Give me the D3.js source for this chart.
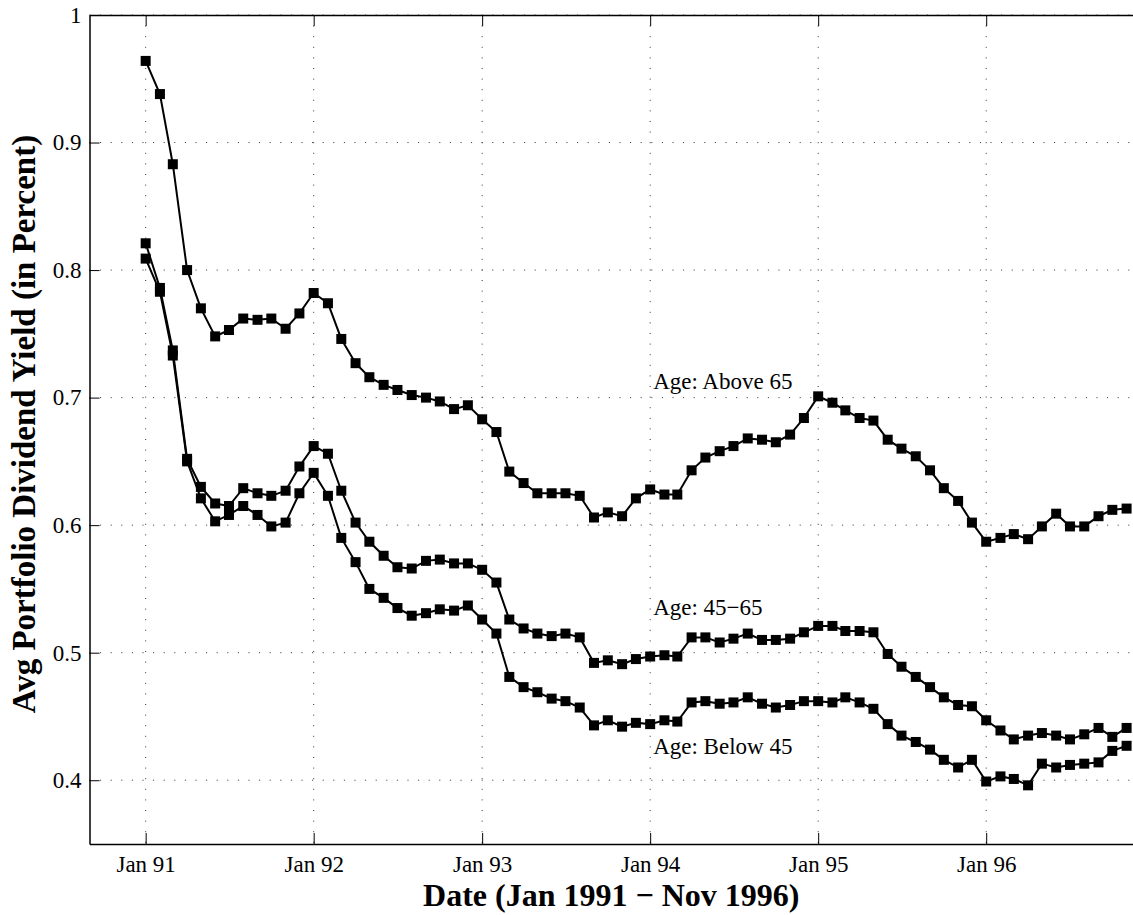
<!DOCTYPE html>
<html><head><meta charset="utf-8">
<script src="https://cdn.jsdelivr.net/npm/d3@7"></script>
<style>body{margin:0;background:#fff}svg{display:block}</style>
</head><body>
<svg id="c" width="1133" height="915"></svg>
<script>
// Monthly observations Jan 1991 .. Nov 1996
const startMonth = new Date(1991, 0, 1);
const endMonth = new Date(1996, 10, 1);
const above65 = [0.964,0.938,0.883,0.800,0.770,0.748,0.753,0.762,0.761,0.762,0.754,0.766,
 0.782,0.774,0.746,0.727,0.716,0.710,0.706,0.702,0.700,0.697,0.691,0.694,
 0.683,0.673,0.642,0.633,0.625,0.625,0.625,0.623,0.606,0.610,0.607,0.621,
 0.628,0.624,0.624,0.643,0.653,0.658,0.662,0.668,0.667,0.665,0.671,0.684,
 0.701,0.696,0.690,0.684,0.682,0.667,0.660,0.654,0.643,0.629,0.619,0.602,
 0.587,0.590,0.593,0.589,0.599,0.609,0.599,0.599,0.607,0.612,0.613];
const age45to65 = [0.821,0.786,0.737,0.652,0.630,0.617,0.615,0.629,0.625,0.623,0.627,0.646,
 0.662,0.656,0.627,0.602,0.587,0.576,0.567,0.566,0.572,0.573,0.570,0.570,
 0.565,0.555,0.526,0.519,0.515,0.513,0.515,0.512,0.492,0.494,0.491,0.495,
 0.497,0.498,0.497,0.512,0.512,0.508,0.511,0.515,0.510,0.510,0.511,0.516,
 0.521,0.521,0.517,0.517,0.516,0.499,0.489,0.481,0.473,0.465,0.459,0.458,
 0.447,0.439,0.432,0.435,0.437,0.435,0.432,0.436,0.441,0.434,0.441];
const below45 = [0.809,0.783,0.733,0.650,0.621,0.603,0.608,0.615,0.608,0.599,0.602,0.625,
 0.641,0.623,0.590,0.571,0.550,0.543,0.535,0.529,0.531,0.534,0.533,0.537,
 0.526,0.515,0.481,0.473,0.469,0.464,0.462,0.457,0.443,0.447,0.442,0.445,
 0.444,0.447,0.446,0.461,0.462,0.460,0.461,0.465,0.460,0.457,0.459,0.462,
 0.462,0.461,0.465,0.461,0.456,0.444,0.435,0.430,0.424,0.416,0.410,0.416,
 0.399,0.403,0.401,0.396,0.413,0.410,0.412,0.413,0.414,0.423,0.427];
const seriesNames = ["Age: Above 65", "Age: 45\u221265", "Age: Below 45"];
const labelValues = [0.7067, 0.5294, 0.4204];
const xTickLabels = ["Jan 91","Jan 92","Jan 93","Jan 94","Jan 95","Jan 96"];
const yTicks = [0.4,0.5,0.6,0.7,0.8,0.9,1];
const yTickLabels = ["0.4","0.5","0.6","0.7","0.8","0.9","1"];
const xTitle = "Date (Jan 1991 \u2212 Nov 1996)";
const yTitle = "Avg Portfolio Dividend Yield (in Percent)";

const months = d3.timeMonth.range(startMonth, d3.timeMonth.offset(endMonth, 1));
const xTickDates = xTickLabels.map((_, i) => new Date(1991 + i, 0, 1));

const svg = d3.select("#c");
const L = 89.5, T = 15, B = 844, R = 1140.4;
const x = d3.scaleTime().domain([new Date(1990, 8, 1), new Date(1996, 11, 1)]).range([L, R]);
const y = d3.scaleLinear().domain([0.35, 1.0]).range([B, T]);
const serif = "'Liberation Serif','Times New Roman',serif";

// grid
const g = svg.append("g");
g.selectAll(".vg").data(xTickDates).join("line")
  .attr("x1", d => x(d)).attr("x2", d => x(d)).attr("y1", T).attr("y2", B)
  .attr("stroke", "#333").attr("stroke-width", 1).attr("stroke-dasharray", "1,9.6");
g.selectAll(".hg").data(yTicks).join("line")
  .attr("x1", L).attr("x2", R).attr("y1", d => y(d)).attr("y2", d => y(d))
  .attr("stroke", "#333").attr("stroke-width", 1).attr("stroke-dasharray", "1,9.6");

// axes
const xAxis = d3.axisBottom(x).tickValues(xTickDates).tickFormat((d, i) => xTickLabels[i]).tickSizeInner(-11).tickSizeOuter(0).tickPadding(0);
const xa = svg.append("g").attr("transform", `translate(0,${B})`).call(xAxis);
const yAxis = d3.axisLeft(y).tickValues(yTicks).tickFormat((d, i) => yTickLabels[i]).tickSizeInner(-10).tickSizeOuter(0).tickPadding(0);
const ya = svg.append("g").attr("transform", `translate(${L},0)`).call(yAxis);
const xTop = d3.axisTop(x).tickValues(xTickDates).tickFormat("").tickSizeInner(-11).tickSizeOuter(0);
svg.append("g").attr("transform", `translate(0,${T})`).call(xTop);
[xa, ya].forEach(a => {
  a.selectAll("text").style("font-family", serif).style("font-size", "23px").attr("fill", "#000");
});
xa.selectAll("text").attr("y", 28).attr("dy", null);
ya.selectAll("text").attr("x", -8);
svg.selectAll(".domain").attr("stroke", "#000").attr("stroke-width", 1.5);
svg.selectAll(".tick line").attr("stroke", "#000").attr("stroke-width", 1);

// series
const allSeries = [above65, age45to65, below45];
const line = d3.line().x((d, i) => x(months[i])).y(d => y(d));
const sg = svg.append("g");
allSeries.forEach(s => {
  sg.append("path").datum(s).attr("d", line).attr("fill", "none").attr("stroke", "#000").attr("stroke-width", 2);
  sg.selectAll(null).data(s).join("rect")
    .attr("x", (d, i) => x(months[i]) - 5).attr("y", d => y(d) - 5)
    .attr("width", 10).attr("height", 10).attr("fill", "#000");
});

// labels
seriesNames.forEach((n, i) => {
  svg.append("text").attr("x", x(new Date(1994, 0, 1)) + 3).attr("y", y(labelValues[i]))
    .style("font-family", serif).style("font-size", "23px").attr("fill", "#000").text(n);
});

// titles
svg.append("text").attr("x", (L + 1133) / 2).attr("y", 906).attr("text-anchor", "middle")
  .style("font-family", serif).style("font-size", "32px").attr("font-weight", "bold").text(xTitle);
svg.append("text").attr("transform", `translate(35,${424}) rotate(-90)`).attr("text-anchor", "middle")
  .style("font-family", serif).style("font-size", "33px").attr("font-weight", "bold").text(yTitle);
</script>
</body></html>
